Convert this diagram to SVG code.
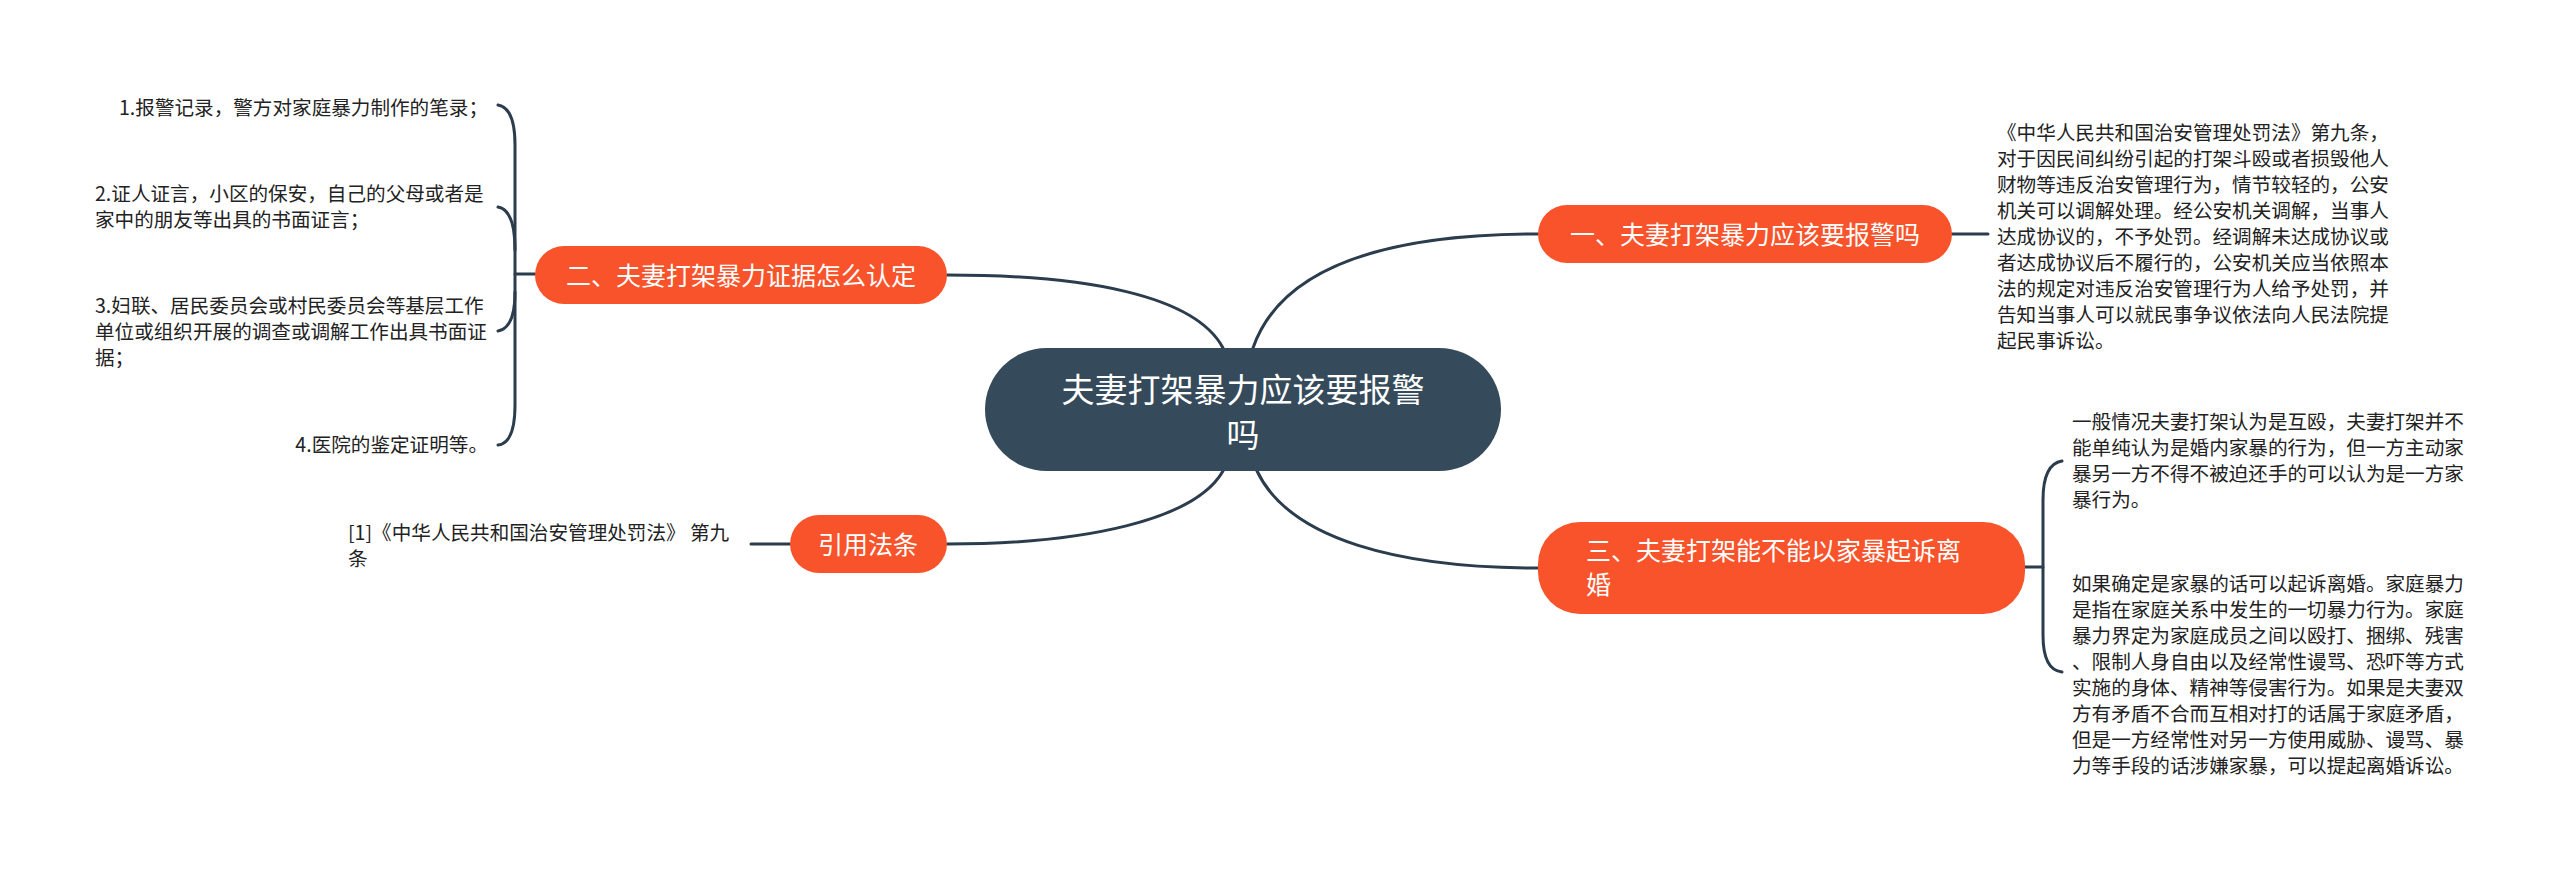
<svg xmlns="http://www.w3.org/2000/svg" width="2560" height="871" viewBox="0 0 2560 871">
<style>
.bg{fill:#ffffff}
.conn{fill:none;stroke:#2b3c4d;stroke-width:3;stroke-linecap:round}
.root{fill:#354a5b}
.main{fill:#f8532b}
.rt{font-family:"Noto Sans CJK SC","Noto Sans",sans-serif;font-size:33px;fill:#ffffff;text-anchor:middle}
.mt{font-family:"Noto Sans CJK SC","Noto Sans",sans-serif;font-size:25px;fill:#ffffff}
.lt{font-family:"Noto Sans CJK SC","Noto Sans",sans-serif;font-size:19.6px;fill:#222222}
</style>
<rect class="bg" x="0" y="0" width="2560" height="871"/>
<g id="connectors">
<path class="conn" d="M1253 348 C1280 270 1380 234 1538 234"/>
<path class="conn" d="M1257 471 C1290 540 1400 568 1538 568"/>
<path class="conn" d="M1223 348 C1195 295 1085 275 947 275"/>
<path class="conn" d="M1223 471 C1195 520 1085 544 947 544"/>
<path class="conn" d="M1952 234 L1988 234"/>
<path class="conn" d="M751 544 L790 544"/>
<path class="conn" d="M535 274 L515 274"/>
<path class="conn" d="M498 105 Q515 108 515 145 L515 405 Q515 443 498 445"/>
<path class="conn" d="M498 207 Q515 210 515 250"/>
<path class="conn" d="M498 331 Q515 328 515 292"/>
<path class="conn" d="M2025 567 L2043 567"/>
<path class="conn" d="M2062 461 Q2043 464 2043 500 L2043 635 Q2043 670 2062 672"/>
</g>
<g id="root">
<rect class="root" x="985" y="348" width="516" height="123" rx="61.5"/>
<text class="rt" x="1243" y="402">夫妻打架暴力应该要报警</text>
<text class="rt" x="1243" y="447">吗</text>
</g>
<g id="node1">
<rect class="main" x="1538" y="205" width="414" height="58" rx="29"/>
<text class="mt" x="1745" y="243.5" text-anchor="middle">一、夫妻打架暴力应该要报警吗</text>
</g>
<g id="node1-text">
<text class="lt" x="1997" y="139.5">《中华人民共和国治安管理处罚法》第九条，</text>
<text class="lt" x="1997" y="165.5">对于因民间纠纷引起的打架斗殴或者损毁他人</text>
<text class="lt" x="1997" y="191.5">财物等违反治安管理行为，情节较轻的，公安</text>
<text class="lt" x="1997" y="217.5">机关可以调解处理。经公安机关调解，当事人</text>
<text class="lt" x="1997" y="243.5">达成协议的，不予处罚。经调解未达成协议或</text>
<text class="lt" x="1997" y="269.5">者达成协议后不履行的，公安机关应当依照本</text>
<text class="lt" x="1997" y="295.5">法的规定对违反治安管理行为人给予处罚，并</text>
<text class="lt" x="1997" y="321.5">告知当事人可以就民事争议依法向人民法院提</text>
<text class="lt" x="1997" y="347.5">起民事诉讼。</text>
</g>
<g id="node2">
<rect class="main" x="535" y="246" width="412" height="58" rx="29"/>
<text class="mt" x="741" y="284.5" text-anchor="middle">二、夫妻打架暴力证据怎么认定</text>
</g>
<g id="node2-leaf1">
<text class="lt" x="488" y="114.5" text-anchor="end">1.报警记录，警方对家庭暴力制作的笔录；</text>
</g>
<g id="node2-leaf2">
<text class="lt" x="95" y="200.5">2.证人证言，小区的保安，自己的父母或者是</text>
<text class="lt" x="95" y="226.5">家中的朋友等出具的书面证言；</text>
</g>
<g id="node2-leaf3">
<text class="lt" x="95" y="312.5">3.妇联、居民委员会或村民委员会等基层工作</text>
<text class="lt" x="95" y="338.5">单位或组织开展的调查或调解工作出具书面证</text>
<text class="lt" x="95" y="364.5">据；</text>
</g>
<g id="node2-leaf4">
<text class="lt" x="488" y="452" text-anchor="end">4.医院的鉴定证明等。</text>
</g>
<g id="node3">
<rect class="main" x="1538" y="522" width="487" height="92" rx="42"/>
<text class="mt" x="1586" y="560">三、夫妻打架能不能以家暴起诉离</text>
<text class="mt" x="1586" y="594">婚</text>
</g>
<g id="node3-leaf1">
<text class="lt" x="2072" y="428.5">一般情况夫妻打架认为是互殴，夫妻打架并不</text>
<text class="lt" x="2072" y="454.5">能单纯认为是婚内家暴的行为，但一方主动家</text>
<text class="lt" x="2072" y="480.5">暴另一方不得不被迫还手的可以认为是一方家</text>
<text class="lt" x="2072" y="506.5">暴行为。</text>
</g>
<g id="node3-leaf2">
<text class="lt" x="2072" y="590.5">如果确定是家暴的话可以起诉离婚。家庭暴力</text>
<text class="lt" x="2072" y="616.5">是指在家庭关系中发生的一切暴力行为。家庭</text>
<text class="lt" x="2072" y="642.5">暴力界定为家庭成员之间以殴打、捆绑、残害</text>
<text class="lt" x="2072" y="668.5">、限制人身自由以及经常性谩骂、恐吓等方式</text>
<text class="lt" x="2072" y="694.5">实施的身体、精神等侵害行为。如果是夫妻双</text>
<text class="lt" x="2072" y="720.5">方有矛盾不合而互相对打的话属于家庭矛盾，</text>
<text class="lt" x="2072" y="746.5">但是一方经常性对另一方使用威胁、谩骂、暴</text>
<text class="lt" x="2072" y="772.5">力等手段的话涉嫌家暴，可以提起离婚诉讼。</text>
</g>
<g id="node4">
<rect class="main" x="790" y="515" width="157" height="58" rx="29"/>
<text class="mt" x="868" y="553.5" text-anchor="middle">引用法条</text>
</g>
<g id="node4-leaf">
<text class="lt" x="348" y="539.5">[1]《中华人民共和国治安管理处罚法》 第九</text>
<text class="lt" x="348" y="565.5">条</text>
</g>
</svg>
